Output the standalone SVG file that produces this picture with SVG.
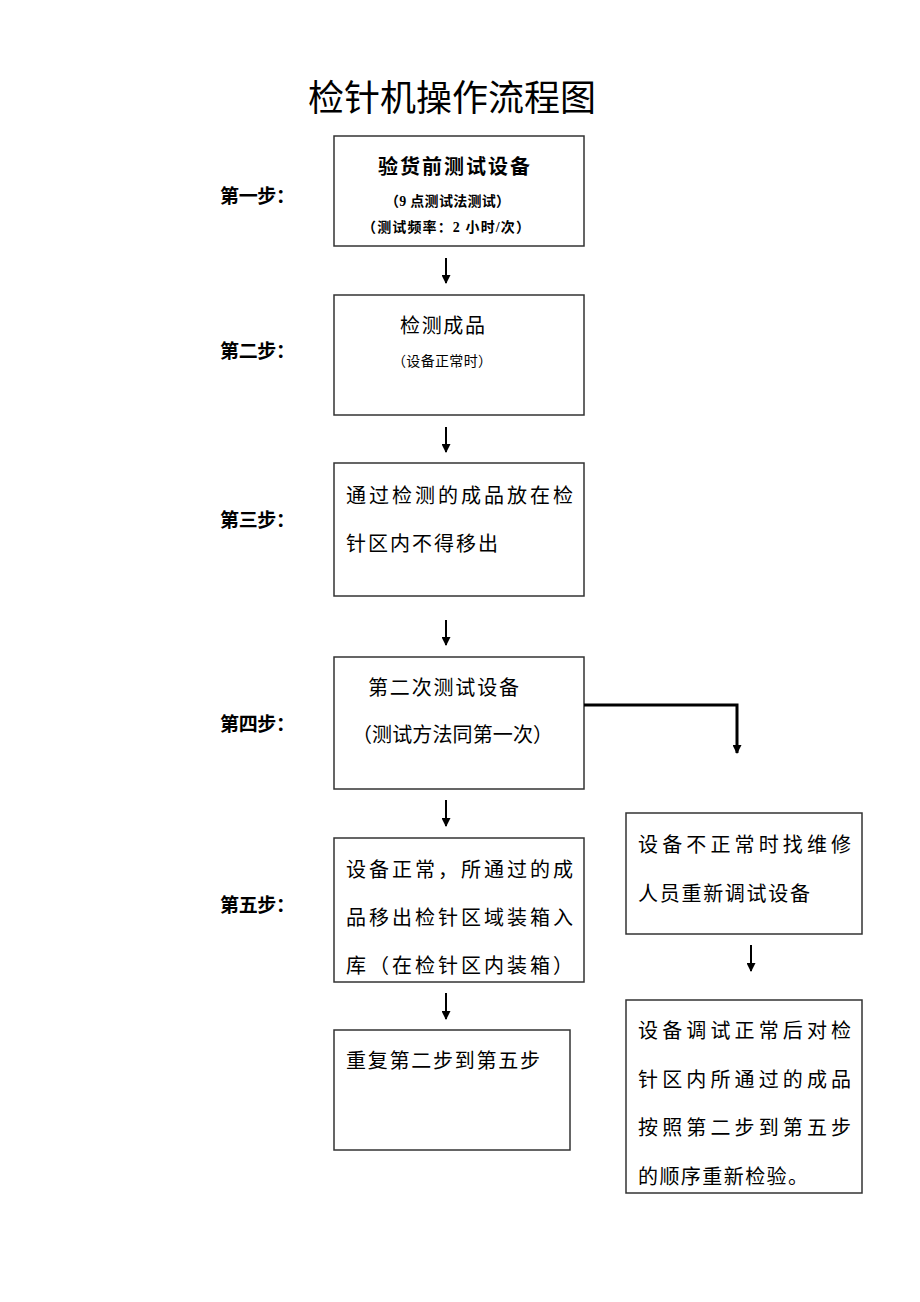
<svg xmlns="http://www.w3.org/2000/svg" width="920" height="1302" viewBox="0 0 920 1302">
<style>
.box{fill:#fff;stroke:#333;stroke-width:1.5}
.t{font-family:"Noto Sans CJK SC",sans-serif;fill:#000}
.b{font-family:"Noto Sans CJK SC",sans-serif;fill:#000;font-size:20px}
.s{font-family:"Liberation Serif","Noto Sans CJK SC",serif;font-weight:bold;fill:#000}
.c{fill:none;stroke:#000;stroke-width:2}
</style>
<defs>
<marker id="ah" markerWidth="9" markerHeight="9" refX="8" refY="4.5" orient="auto" markerUnits="userSpaceOnUse" viewBox="0 0 9 9">
<path d="M0,0 L9,4.5 L0,9 Z" fill="#000"/>
</marker>
</defs>
<rect width="920" height="1302" fill="#fff"/>
<text class="t" x="452" y="111" font-size="36" text-anchor="middle">检针机操作流程图</text>

<g id="labels">
<text class="s" x="220" y="203" font-size="19" textLength="75" lengthAdjust="spacing">第一步：</text>
<text class="s" x="220" y="358" font-size="19" textLength="75" lengthAdjust="spacing">第二步：</text>
<text class="s" x="220" y="527" font-size="19" textLength="75" lengthAdjust="spacing">第三步：</text>
<text class="s" x="220" y="731" font-size="19" textLength="75" lengthAdjust="spacing">第四步：</text>
<text class="s" x="220" y="912" font-size="19" textLength="75" lengthAdjust="spacing">第五步：</text>
</g>

<g id="n1">
<rect class="box" x="334" y="136" width="250" height="110"/>
<text class="s" x="378" y="174" font-size="20" textLength="152" lengthAdjust="spacing">验货前测试设备</text>
<text class="s" x="385" y="206" font-size="14" textLength="125" lengthAdjust="spacing">（9 点测试法测试）</text>
<text class="s" x="362" y="232" font-size="14" textLength="168" lengthAdjust="spacing">（测试频率：2 小时/次）</text>
</g>
<g id="n2">
<rect class="box" x="334" y="295" width="250" height="120"/>
<text class="b" x="400" y="333" textLength="85" lengthAdjust="spacing">检测成品</text>
<text class="b" x="392" y="366" style="font-size:14px" textLength="100" lengthAdjust="spacing">（设备正常时）</text>
</g>
<g id="n3">
<rect class="box" x="334" y="463" width="250" height="133"/>
<text class="b" x="346" y="503" textLength="227" lengthAdjust="spacing">通过检测的成品放在检</text>
<text class="b" x="346" y="551" textLength="152" lengthAdjust="spacing">针区内不得移出</text>
</g>
<g id="n4">
<rect class="box" x="334" y="657" width="250" height="132"/>
<text class="b" x="368" y="695" textLength="151" lengthAdjust="spacing">第二次测试设备</text>
<text class="b" x="352" y="742" textLength="201" lengthAdjust="spacing">（测试方法同第一次）</text>
</g>
<g id="n5">
<rect class="box" x="334" y="838" width="250" height="144"/>
<text class="b" x="346" y="877" textLength="227" lengthAdjust="spacing">设备正常，所通过的成</text>
<text class="b" x="346" y="925" textLength="227" lengthAdjust="spacing">品移出检针区域装箱入</text>
<text class="b" x="346" y="973" textLength="227" lengthAdjust="spacing">库（在检针区内装箱）</text>
</g>
<g id="n6">
<rect class="box" x="334" y="1030" width="236" height="120"/>
<text class="b" x="346" y="1068" textLength="194" lengthAdjust="spacing">重复第二步到第五步</text>
</g>
<g id="n7">
<rect class="box" x="626" y="813" width="236" height="121"/>
<text class="b" x="638" y="852" textLength="213" lengthAdjust="spacing">设备不正常时找维修</text>
<text class="b" x="638" y="901" textLength="172" lengthAdjust="spacing">人员重新调试设备</text>
</g>
<g id="n8">
<rect class="box" x="626" y="1000" width="236" height="193"/>
<text class="b" x="638" y="1038" textLength="213" lengthAdjust="spacing">设备调试正常后对检</text>
<text class="b" x="638" y="1087" textLength="213" lengthAdjust="spacing">针区内所通过的成品</text>
<text class="b" x="638" y="1135" textLength="213" lengthAdjust="spacing">按照第二步到第五步</text>
<text class="b" x="638" y="1184" textLength="170" lengthAdjust="spacing">的顺序重新检验。</text>
</g>

<g id="connectors">
<line class="c" x1="446" y1="258" x2="446" y2="283" marker-end="url(#ah)"/>
<line class="c" x1="446" y1="427" x2="446" y2="452" marker-end="url(#ah)"/>
<line class="c" x1="446" y1="620" x2="446" y2="645" marker-end="url(#ah)"/>
<line class="c" x1="446" y1="800" x2="446" y2="826" marker-end="url(#ah)"/>
<line class="c" x1="446" y1="993" x2="446" y2="1019" marker-end="url(#ah)"/>
<line class="c" x1="751" y1="945" x2="751" y2="971" marker-end="url(#ah)"/>
<path d="M584,705 H737 V753" fill="none" stroke="#000" stroke-width="3" marker-end="url(#ah)"/>
</g>
</svg>
